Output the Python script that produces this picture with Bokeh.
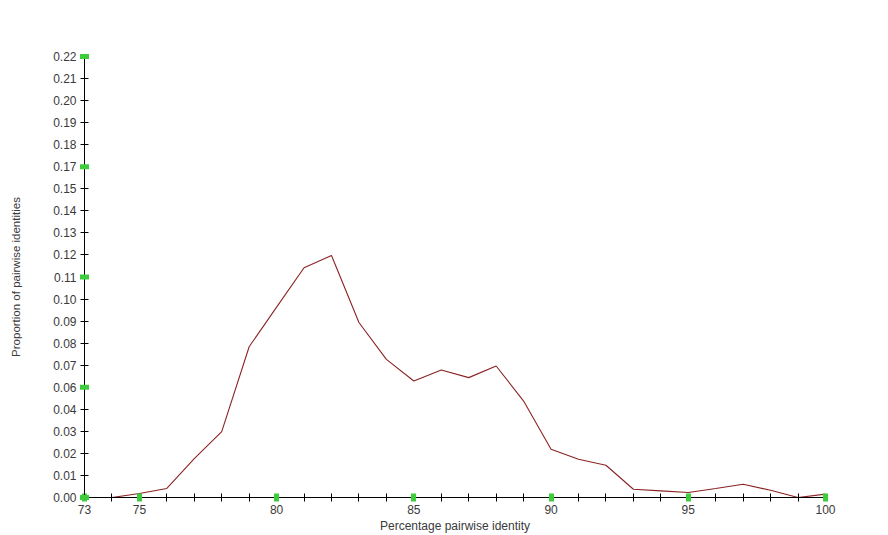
from bokeh.plotting import figure
from bokeh.models import Range1d, FixedTicker
from bokeh.embed import file_html
from bokeh.resources import INLINE

# Percentage pairwise identity (x) vs proportion of pairwise identities (y)
identity = [73, 74, 75, 76, 77, 78, 79, 80, 81, 82, 83, 84, 85, 86, 87, 88, 89,
            90, 91, 92, 93, 94, 95, 96, 97, 98, 99, 100]
proportion = [0.0, 0.0, 0.002, 0.0045, 0.0194, 0.0329, 0.0752, 0.095, 0.1146,
              0.1207, 0.0873, 0.0689, 0.0581, 0.0636, 0.0598, 0.0656, 0.0481,
              0.0241, 0.0191, 0.0161, 0.0041, 0.0033, 0.0025, 0.0045, 0.0066,
              0.0036, 0.0, 0.0017]

x_major_ticks = [73, 75, 80, 85, 90, 95, 100]
x_minor_ticks = [74, 76, 77, 78, 79, 81, 82, 83, 84, 86, 87, 88, 89, 91, 92, 93,
                 94, 96, 97, 98, 99]
y_ticks = [0.0, 0.011, 0.022, 0.033, 0.044, 0.055, 0.066, 0.077, 0.088, 0.099,
           0.11, 0.121, 0.132, 0.143, 0.154, 0.165, 0.176, 0.187, 0.198, 0.209, 0.22]
y_tick_labels = ["0.00", "0.01", "0.02", "0.03", "0.04", "0.06", "0.07", "0.08",
                 "0.09", "0.10", "0.11", "0.12", "0.13", "0.14", "0.15", "0.17",
                 "0.18", "0.19", "0.20", "0.21", "0.22"]
y_green_ticks = [0.0, 0.055, 0.11, 0.165, 0.22]

FONT = "Liberation Sans"
TEXT = "#3a3a3a"
GREEN = "#3ccc3c"

p = figure(width=888, height=535, output_backend="svg", toolbar_location=None,
           x_range=Range1d(73, 100), y_range=Range1d(0, 0.22),
           min_border_left=84, min_border_right=63, min_border_top=56,
           min_border_bottom=37)
p.outline_line_color = None
p.grid.visible = False
p.background_fill_color = "white"
p.border_fill_color = "white"

p.line(identity, proportion, line_color="#8b2323", line_width=1.1)

# x axis
xa = p.xaxis[0]
xa.ticker = FixedTicker(ticks=x_major_ticks, minor_ticks=x_minor_ticks)
xa.axis_line_color = "black"
xa.major_tick_line_color = GREEN
xa.major_tick_line_width = 5
xa.major_tick_in = 4
xa.major_tick_out = 4
xa.minor_tick_line_color = "black"
xa.minor_tick_in = 4
xa.minor_tick_out = 4
xa.major_label_text_font = FONT
xa.major_label_text_font_size = "12px"
xa.major_label_text_color = TEXT
xa.major_label_standoff = 3
xa.axis_label = "Percentage pairwise identity"
xa.axis_label_text_font = FONT
xa.axis_label_text_font_size = "12px"
xa.axis_label_text_font_style = "normal"
xa.axis_label_text_color = TEXT
xa.axis_label_standoff = 2

# y axis
ya = p.yaxis[0]
ya.ticker = FixedTicker(ticks=y_ticks, minor_ticks=[])
ya.major_label_overrides = {t: lab for t, lab in zip(y_ticks, y_tick_labels)}
ya.axis_line_color = "black"
ya.major_tick_line_color = "black"
ya.major_tick_in = 4
ya.major_tick_out = 4
ya.major_label_text_font = FONT
ya.major_label_text_font_size = "12px"
ya.major_label_text_color = TEXT
ya.major_label_standoff = 4
ya.axis_label = "Proportion of pairwise identities"
ya.axis_label_text_font = FONT
ya.axis_label_text_font_size = "11.5px"
ya.axis_label_text_font_style = "normal"
ya.axis_label_text_color = TEXT
ya.axis_label_standoff = 28

# green major markers on the y axis
p.rect(x=[identity[0]] * len(y_green_ticks), y=y_green_ticks, width=9, height=5,
       width_units="screen", height_units="screen", fill_color=GREEN,
       line_color=None, level="overlay")

open("out.html", "w").write(file_html(p, INLINE))
